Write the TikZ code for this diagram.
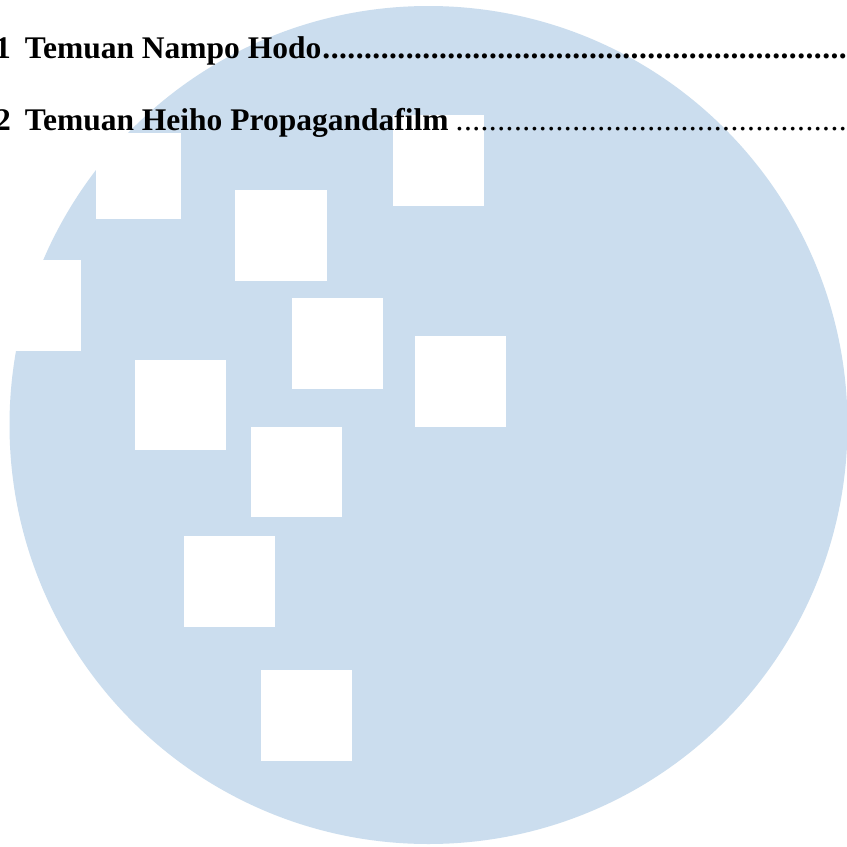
\documentclass[tikz,border=0pt]{standalone}
\usepackage{fontspec}
\setmainfont{Liberation Serif}
\definecolor{disc}{HTML}{CBDDEE}
\tikzset{
  px/.style={x=1pt,y=-1pt},
  hole/.style={fill=white,draw=none},
  tocline/.style={inner sep=0pt,outer sep=0pt,anchor=base west,text=black,font=\fontsize{31.5}{38}\selectfont}
}
\newcommand{\dotrun}[1]{\foreach \i in {1,...,#1}{\hbox to 8.33pt{.\hss}}}
\newcommand{\lead}[2]{\makebox[#1][l]{#2}}
\begin{document}
\begin{tikzpicture}[px]
\useasboundingbox (0,0) rectangle (847,847);
\clip (0,0) rectangle (847,847);
\fill[white] (0,0) rectangle (847,847);
\fill[disc] (428.5,425) circle [radius=419];
\fill[hole] (96,133) rectangle (181,219);
\fill[hole] (235,190) rectangle (326.5,281);
\fill[hole] (393,115) rectangle (484,206);
\fill[hole] (-10,260) rectangle (81,351);
\fill[hole] (292,298) rectangle (383,389);
\fill[hole] (415,336) rectangle (506,427);
\fill[hole] (135,360) rectangle (225.5,450);
\fill[hole] (251,427) rectangle (342,517);
\fill[hole] (184,536) rectangle (274.5,627);
\fill[hole] (261,670) rectangle (351.5,761);
\node[tocline] (one) at (-5,58.3) {\lead{327.5pt}{\textbf{1\hspace{14.2pt}Temuan Nampo Hodo}}\textbf{\dotrun{63}}};
\node[tocline] (two) at (-5,130.8) {\lead{460.7pt}{\textbf{2\hspace{14.2pt}Temuan Heiho Propagandafilm}}\dotrun{47}};
\end{tikzpicture}
\end{document}
